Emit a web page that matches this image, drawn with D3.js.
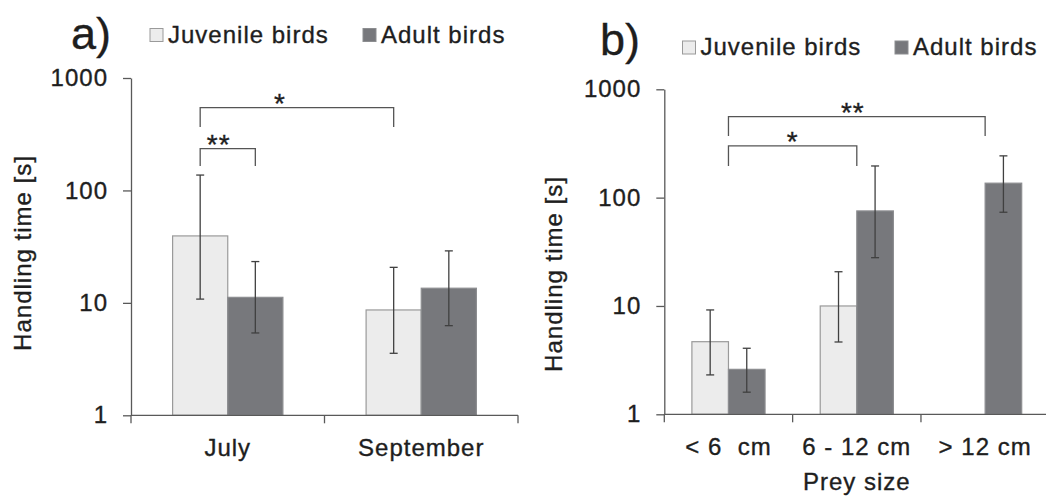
<!DOCTYPE html>
<html>
<head>
<meta charset="utf-8">
<script src="https://cdn.jsdelivr.net/npm/d3@7"></script>
<style>
  body { margin: 0; background: #fff; }
  svg { display: block; }
  svg text { font-family: "Liberation Sans", Arial, sans-serif; letter-spacing: 1px;
             stroke: #1e1e1e; stroke-width: 0.35px; }
</style>
</head>
<body>
<svg id="chart" width="1046" height="497"></svg>
<script>
// panel a) : handling time by month
const monthCats = ['July', 'September'];
const monthJuv = [39.4, 8.65];
const monthJuvLo = [10.8, 3.56];
const monthJuvHi = [137, 20.7];
const monthAdult = [11.2, 13.5];
const monthAdultLo = [5.4, 6.27];
const monthAdultHi = [23.3, 29];

// panel b) : handling time by prey size (no juveniles for > 12 cm)
const sizeCats = ['< 6  cm', '6 - 12 cm', '> 12 cm'];
const sizeJuv = [4.68, 10.0, null];
const sizeJuvLo = [2.31, 4.65, null];
const sizeJuvHi = [9.19, 20.7, null];
const sizeAdult = [2.6, 75.4, 136];
const sizeAdultLo = [1.6, 27.9, 73.3];
const sizeAdultHi = [4.07, 196, 243];

const yTicks = [1, 10, 100, 1000];
const seriesNames = ['Juvenile birds', 'Adult birds'];

// significance brackets: [category, series (null = category centre)], level & leg end in seconds
const sigA = [
  { from: ['July', 0], to: ['July', 1], top: 235, leg: 165, label: '**' },
  { from: ['July', 0], to: ['September', 0], top: 545, leg: 367, label: '*' }
];
const sigB = [
  { from: ['< 6  cm', null], to: ['6 - 12 cm', null], top: 300, leg: 196, label: '*' },
  { from: ['< 6  cm', null], to: ['> 12 cm', null], top: 560, leg: 371, label: '**' }
];

const FILL = ['#ececec', '#77787c'];
const STROKE = ['#9a9a9a', '#8c8d90'];
const AXIS = '#595959';
const TEXT = '#1e1e1e';

const svg = d3.select('#chart');

function drawPanel(opt) {
  const g = svg.append('g');
  const x = d3.scaleBand().domain(opt.cats).range([opt.x0, opt.x1])
    .paddingInner(0.43).paddingOuter(0.215);
  const sub = d3.scaleBand().domain([0, 1]).range([0, x.bandwidth()]);
  const y = d3.scaleLog().domain([1, 1000]).range([opt.y0, opt.y1]);

  const rows = [];
  opt.cats.forEach((c, i) => {
    opt.series.forEach((s, k) => {
      if (s.v[i] == null) return;
      rows.push({ cat: c, k: k, v: s.v[i], lo: s.lo[i], hi: s.hi[i] });
    });
  });

  // bars
  g.selectAll('rect.bar').data(rows).enter().append('rect')
    .attr('class', 'bar')
    .attr('x', d => x(d.cat) + sub(d.k))
    .attr('width', sub.bandwidth())
    .attr('y', d => y(d.v))
    .attr('height', d => y(1) - y(d.v))
    .attr('fill', d => FILL[d.k])
    .attr('stroke', d => STROKE[d.k])
    .attr('stroke-width', 1.2);

  // error bars
  const cx = d => x(d.cat) + sub(d.k) + sub.bandwidth() / 2;
  const err = g.selectAll('g.err').data(rows).enter().append('g').attr('class', 'err')
    .attr('stroke', '#404040').attr('stroke-width', 1.3);
  err.append('line').attr('x1', cx).attr('x2', cx).attr('y1', d => y(d.lo)).attr('y2', d => y(d.hi));
  err.append('line').attr('x1', d => cx(d) - 4).attr('x2', d => cx(d) + 4).attr('y1', d => y(d.hi)).attr('y2', d => y(d.hi));
  err.append('line').attr('x1', d => cx(d) - 4).attr('x2', d => cx(d) + 4).attr('y1', d => y(d.lo)).attr('y2', d => y(d.lo));

  // y axis
  const ya = g.append('g').attr('transform', `translate(${opt.x0},0)`)
    .call(d3.axisLeft(y).tickValues(yTicks).tickFormat(d3.format('d')).tickSize(8).tickSizeOuter(0).tickPadding(15));
  ya.attr('font-size', 24).attr('font-family', null);
  ya.select('.domain').attr('stroke', AXIS).attr('stroke-width', 1.3);
  ya.selectAll('.tick line').attr('stroke', AXIS).attr('stroke-width', 1.3);
  ya.selectAll('.tick text').attr('fill', TEXT);

  // x axis: base line + separator ticks between categories
  g.append('line').attr('x1', opt.x0).attr('x2', opt.x1).attr('y1', y(1)).attr('y2', y(1))
    .attr('stroke', AXIS).attr('stroke-width', 1.3);
  const bounds = d3.range(opt.cats.length + 1).map(i => opt.x0 + i * x.step());
  g.selectAll('line.xt').data(bounds).enter().append('line').attr('class', 'xt')
    .attr('x1', d => d).attr('x2', d => d).attr('y1', y(1)).attr('y2', y(1) + 8)
    .attr('stroke', AXIS).attr('stroke-width', 1.3);
  g.selectAll('text.xl').data(opt.cats).enter().append('text').attr('class', 'xl')
    .attr('x', d => x(d) + x.bandwidth() / 2)
    .attr('y', y(1) + 40.5)
    .attr('text-anchor', 'middle')
    .style('white-space', 'pre')
    .attr('fill', TEXT).attr('font-size', 24)
    .text(d => d);

  if (opt.xTitle) {
    g.append('text').attr('x', (opt.x0 + opt.x1) / 2).attr('y', 490)
      .attr('text-anchor', 'middle').attr('fill', TEXT).attr('font-size', 24)
      .text(opt.xTitle);
  }

  // y title
  g.append('text')
    .attr('transform', `translate(${opt.yTitleX},${opt.yTitleY}) rotate(-90)`)
    .attr('text-anchor', 'middle').attr('fill', TEXT).attr('font-size', 24)
    .text('Handling time [s]');

  // significance brackets
  const px = e => e[1] == null ? x(e[0]) + x.bandwidth() / 2 : x(e[0]) + sub(e[1]) + sub.bandwidth() / 2;
  opt.sig.forEach((b, i) => {
    const a = px(b.from), c = px(b.to);
    g.append('path')
      .attr('d', `M${a},${y(b.leg)}V${y(b.top)}H${c}V${y(b.leg)}`)
      .attr('fill', 'none').attr('stroke', '#555').attr('stroke-width', 1.3);
    g.append('text').attr('x', (a + c) / 2 + opt.sigShift[i]).attr('y', y(b.top) + 5)
      .attr('text-anchor', 'middle').attr('fill', TEXT).attr('font-size', 28)
      .text(b.label);
  });

  // panel letter + legend
  g.append('text').attr('x', opt.letterX).attr('y', opt.letterY)
    .attr('fill', TEXT).attr('font-size', 45).style('letter-spacing', '0px').text(opt.letter);
  const leg = g.selectAll('g.leg').data(seriesNames).enter().append('g').attr('class', 'leg')
    .attr('transform', (d, i) => `translate(${opt.legX[i]},${opt.legY})`);
  leg.append('rect').attr('x', 0).attr('y', -14).attr('width', 13).attr('height', 13)
    .attr('fill', (d, i) => FILL[i]).attr('stroke', (d, i) => STROKE[i]).attr('stroke-width', 1);
  leg.append('text').attr('x', 18).attr('y', 0).attr('fill', TEXT).attr('font-size', 24).text(d => d);
}

drawPanel({
  cats: monthCats,
  series: [
    { v: monthJuv, lo: monthJuvLo, hi: monthJuvHi },
    { v: monthAdult, lo: monthAdultLo, hi: monthAdultHi }
  ],
  sig: sigA, sigShift: [-9, -17],
  x0: 131, x1: 518, y0: 415.3, y1: 78,
  yTitleX: 31, yTitleY: 253,
  letter: 'a)', letterX: 71, letterY: 49,
  legX: [150, 363], legY: 42.5
});

drawPanel({
  cats: sizeCats,
  series: [
    { v: sizeJuv, lo: sizeJuvLo, hi: sizeJuvHi },
    { v: sizeAdult, lo: sizeAdultLo, hi: sizeAdultHi }
  ],
  sig: sigB, sigShift: [0, -4],
  x0: 664.3, x1: 1049.3, y0: 414.3, y1: 89.3,
  yTitleX: 562, yTitleY: 274,
  xTitle: 'Prey size',
  letter: 'b)', letterX: 600, letterY: 55,
  legX: [682.5, 895], legY: 55
});
</script>
</body>
</html>
